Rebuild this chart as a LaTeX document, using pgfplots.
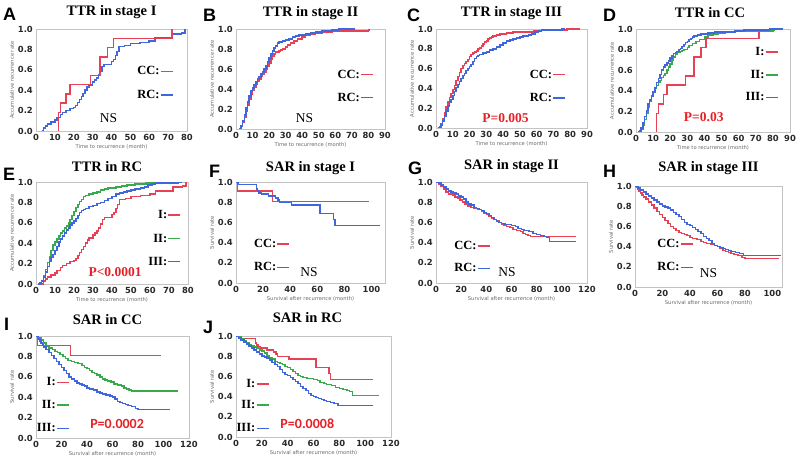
\documentclass[border=0pt]{standalone}
\usepackage{pgfplots}
\pgfplotsset{compat=1.18}
\usepackage{pgfplotstable}
\usepackage{fontspec}
\setmainfont{Liberation Serif}
\newfontfamily\tickfont{DejaVu Sans}
\newfontfamily\letterfont{Liberation Sans}
\newfontfamily\calib{Carlito}

\definecolor{kmred}{RGB}{232,64,84}
\definecolor{kmblue}{RGB}{64,102,222}
\definecolor{kmgreen}{RGB}{56,170,76}
\definecolor{pred}{RGB}{230,32,38}
\definecolor{boxgray}{RGB}{195,195,195}
\definecolor{labgray}{RGB}{105,105,105}
\definecolor{tickgray}{RGB}{40,40,40}

% ---------- time to recurrence ----------
\pgfplotstableread{
x y
12 0
12 0.182
13 0.273
16 0.364
18 0.455
29 0.545
34 0.727
38 0.818
41 0.909
72 1.0
}\ttrIcc
\pgfplotstableread{
x y
3 0
4 0.03
5 0.05
6 0.07
8 0.09
10 0.11
11 0.13
13 0.16
14 0.18
16 0.20
18 0.22
20 0.23
21 0.25
22 0.28
23 0.31
24 0.34
25 0.37
26 0.40
27 0.43
28 0.45
30 0.48
31 0.50
32 0.52
33 0.55
34 0.59
35 0.63
36 0.65
40 0.68
41 0.70
42 0.74
43 0.78
44 0.83
47 0.84
50 0.86
55 0.87
60 0.88
63 0.91
72 0.95
77 0.96
79 1.0
}\ttrIrc
\pgfplotstableread{
x y
2 0
3 0.03
4 0.07
5 0.12
6 0.18
7 0.24
8 0.30
9 0.35
10 0.39
11 0.42
12 0.45
13 0.48
14 0.50
15 0.53
16 0.55
17 0.57
18 0.60
19 0.63
20 0.66
21 0.70
22 0.73
23 0.75
24 0.77
26 0.78
27 0.79
28 0.80
30 0.82
31 0.84
33 0.86
35 0.88
37 0.90
40 0.92
42 0.94
45 0.95
48 0.96
52 0.97
58 0.98
75 0.98
80 0.99
81 0.99
}\ttrIIcc
\pgfplotstableread{
x y
2 0
3 0.03
4 0.08
5 0.14
6 0.21
7 0.27
8 0.33
9 0.38
10 0.41
11 0.44
12 0.47
13 0.50
14 0.52
15 0.55
16 0.57
17 0.60
18 0.63
19 0.67
20 0.71
21 0.75
22 0.78
23 0.81
24 0.83
25 0.86
26 0.87
28 0.88
30 0.89
32 0.90
34 0.92
36 0.93
38 0.94
42 0.95
45 0.96
48 0.97
52 0.98
58 0.99
62 1.0
72 1.0
}\ttrIIrc
\pgfplotstableread{
x y
1 0
2 0.01
3 0.04
4 0.09
5 0.15
6 0.21
7 0.27
8 0.31
9 0.35
10 0.39
11 0.43
12 0.48
13 0.52
14 0.56
15 0.60
16 0.63
17 0.65
18 0.67
19 0.69
20 0.72
21 0.74
22 0.76
23 0.77
24 0.78
25 0.80
26 0.81
27 0.83
28 0.85
29 0.87
30 0.88
31 0.90
32 0.91
33 0.92
34 0.93
36 0.94
38 0.95
42 0.96
46 0.97
55 0.97
58 0.98
63 0.99
70 0.99
78 1.0
86 1.0
}\ttrIIIcc
\pgfplotstableread{
x y
1 0
2 0.01
3 0.03
4 0.07
5 0.12
6 0.17
7 0.22
8 0.26
9 0.29
10 0.33
11 0.37
12 0.41
13 0.44
14 0.47
15 0.50
16 0.53
17 0.55
18 0.58
19 0.60
20 0.62
21 0.64
22 0.67
23 0.70
24 0.72
25 0.73
26 0.74
28 0.76
30 0.77
32 0.79
34 0.80
36 0.82
38 0.84
40 0.86
42 0.88
44 0.89
46 0.90
48 0.91
50 0.92
52 0.93
55 0.94
57 0.95
59 0.97
61 0.98
63 0.99
70 0.99
75 1.0
77 1.0
}\ttrIIIrc

% ---------- survival after recurrence ----------
\pgfplotstableread{
x y
0 1.0
1 0.909
27 0.808
98 0.808
}\sarIcc
\pgfplotstableread{
x y
0 1.0
2 0.977
15 0.93
16 0.91
17 0.89
19 0.88
24 0.86
29 0.84
31 0.82
32 0.795
41 0.77
62 0.69
72 0.63
73 0.57
106 0.57
}\sarIrc
\pgfplotstableread{
x y
0 1.0
2 0.98
4 0.96
6 0.93
8 0.90
10 0.88
13 0.87
15 0.85
17 0.84
19 0.82
21 0.80
23 0.78
25 0.76
28 0.75
30 0.74
33 0.73
36 0.71
38 0.69
40 0.68
42 0.66
44 0.64
46 0.63
48 0.62
50 0.60
52 0.58
54 0.57
56 0.56
59 0.55
61 0.53
64 0.52
67 0.51
69 0.49
71 0.48
73 0.47
75 0.46
111 0.46
}\sarIIcc
\pgfplotstableread{
x y
0 1.0
2 0.99
4 0.97
6 0.95
8 0.93
10 0.91
12 0.90
14 0.89
16 0.88
18 0.86
20 0.85
22 0.83
24 0.80
26 0.78
28 0.77
30 0.75
32 0.74
34 0.73
36 0.72
38 0.70
40 0.69
42 0.67
44 0.65
46 0.63
48 0.61
50 0.60
52 0.59
55 0.58
60 0.57
63 0.56
65 0.54
68 0.53
70 0.52
74 0.51
77 0.49
80 0.48
83 0.47
86 0.46
88 0.45
90 0.41
111 0.41
}\sarIIrc
\pgfplotstableread{
x y
0 1.0
1 0.99
2 0.97
3 0.95
4 0.93
5 0.91
6 0.89
8 0.87
10 0.84
12 0.81
14 0.78
16 0.75
18 0.72
20 0.69
22 0.66
24 0.63
26 0.60
28 0.58
30 0.56
32 0.54
34 0.53
36 0.52
38 0.51
40 0.49
42 0.48
45 0.47
48 0.45
50 0.44
52 0.43
55 0.42
58 0.41
60 0.40
62 0.38
64 0.36
66 0.35
68 0.34
70 0.33
72 0.32
75 0.31
78 0.29
80 0.28
105 0.28
}\sarIIIcc
\pgfplotstableread{
x y
0 1.0
2 0.98
4 0.96
6 0.94
8 0.92
10 0.90
12 0.88
14 0.86
16 0.84
18 0.82
20 0.80
22 0.79
24 0.78
26 0.76
28 0.74
30 0.72
32 0.70
34 0.67
36 0.64
38 0.62
40 0.61
42 0.59
44 0.57
46 0.55
48 0.53
50 0.50
52 0.48
54 0.46
56 0.43
58 0.41
60 0.40
62 0.39
64 0.38
66 0.37
68 0.36
70 0.35
73 0.34
76 0.33
79 0.31
106 0.31
}\sarIIIrc

\pgfplotsset{
  kml/.style={const plot, line width=1.5pt, mark=none},
  km/.style={
    scale only axis,
    xmin=0, ymin=0, ymax=1,
    ytick={0,0.2,0.4,0.6,0.8,1},
    yticklabel style={/pgf/number format/fixed,/pgf/number format/fixed zerofill,/pgf/number format/precision=1},
    /pgf/number format/assume math mode=true,
    axis line style={boxgray, line width=0.7pt},
    major tick length=0pt,
    tick label style={font=\tickfont\bfseries\fontsize{8.4}{9}\selectfont, text=tickgray},
    xticklabel style={inner sep=1pt, yshift=-2pt},
    yticklabel style={inner sep=1pt, xshift=-2pt},
    label style={font=\tickfont\fontsize{5.2}{6}\selectfont, text=labgray},
    xlabel style={at={([yshift=-16pt]axis description cs:0.5,0)}, anchor=center},
    ylabel style={at={([xshift=-24pt]axis description cs:0,0.5)}, anchor=center},
    title style={font=\bfseries\fontsize{14.5}{15}\selectfont, anchor=base, at={(axis description cs:0.5,1)}, yshift=7pt},
  },
  ttr/.style={km, xlabel={Time to recurrence (month)}, ylabel={Accumulative recurrence rate}},
  sar/.style={km, xlabel={Survival after recurrence (month)}, ylabel={Survival rate}},
}
\tikzset{
  nsl/.style={font=\fontsize{13.5}{14}\selectfont},
  pvl/.style={font=\bfseries\fontsize{13.5}{14}\selectfont, text=pred},
  pvs/.style={font=\calib\bfseries\fontsize{14}{15}\selectfont, text=pred},
  lett/.style={font=\letterfont\bfseries\fontsize{18}{18}\selectfont, anchor=base west, inner sep=0pt},
  lg/.style={font=\bfseries\fontsize{12.5}{13}\selectfont, inner sep=0pt},
}
% legend key: text left edge at x, centre at y
\newcommand\legL[4]{%
  \node[lg, anchor=west] (lgt) at (axis description cs:#1,#2) {#3};
  \draw[#4, line width=1.5pt] ([xshift=1pt,yshift=-0.5pt]lgt.east) -- ++(12pt,0);}
% legend key: line right end at x, centre at y
\newcommand\legR[4]{%
  \node[lg, anchor=east] (lgt) at ([xshift=-13pt]axis description cs:#1,#2) {#3};
  \draw[#4, line width=1.5pt] ([xshift=1pt,yshift=-0.5pt]lgt.east) -- ++(12pt,0);}

\begin{document}
\begin{tikzpicture}
\useasboundingbox (0,0) rectangle (800pt,-465pt);

% A
\begin{axis}[ttr, at={(36pt,-131pt)}, anchor=south west, width=151pt, height=102pt,
  xmax=80, xtick={0,10,...,80}, title={TTR in stage I}]
\addplot[kml, kmblue] table {\ttrIrc};
\addplot[kml, kmred] table {\ttrIcc};
\legL{0.67}{0.59}{CC:}{kmred}
\legL{0.67}{0.36}{RC:}{kmblue}
\node[nsl] at (axis description cs:0.48,0.13) {NS};
\end{axis}

% B
\begin{axis}[ttr, at={(236pt,-129pt)}, anchor=south west, width=149pt, height=100pt,
  xmax=90, xtick={0,10,...,90}, title={TTR in stage II}, title style={yshift=-1pt}]
\addplot[kml, kmred] table {\ttrIIcc};
\addplot[kml, kmblue] table {\ttrIIrc};
\legL{0.68}{0.55}{CC:}{kmred}
\legL{0.68}{0.32}{RC:}{kmblue}
\node[nsl] at (axis description cs:0.46,0.11) {NS};
\end{axis}

% C
\begin{axis}[ttr, at={(436pt,-128pt)}, anchor=south west, width=151pt, height=99pt,
  xmax=90, xtick={0,10,...,90}, title={TTR in stage III}, title style={yshift=-1pt}]
\addplot[kml, kmred] table {\ttrIIIcc};
\addplot[kml, kmblue] table {\ttrIIIrc};
\legL{0.62}{0.545}{CC:}{kmred}
\legL{0.62}{0.31}{RC:}{kmblue}
\node[pvl] at (axis description cs:0.46,0.10) {P=0.005};
\end{axis}

% D
\begin{axis}[ttr, at={(636pt,-132pt)}, anchor=south west, width=154pt, height=103pt,
  xmax=90, xtick={0,10,...,90}, title={TTR in CC}, title style={yshift=-2pt, xshift=-3pt}]
\addplot[kml, kmred] table {\ttrIcc};
\addplot[kml, kmgreen] table {\ttrIIcc};
\addplot[kml, kmblue] table {\ttrIIIcc};
\legR{0.92}{0.78}{I:}{kmred}
\legR{0.92}{0.56}{II:}{kmgreen}
\legR{0.92}{0.34}{III:}{kmblue}
\node[pvl] at (axis description cs:0.44,0.14) {P=0.03};
\end{axis}

% E
\begin{axis}[ttr, at={(36pt,-284pt)}, anchor=south west, width=152pt, height=102pt,
  xmax=80, xtick={0,10,...,80}, title={TTR in RC}, title style={yshift=-2pt, xshift=-5pt}]
\addplot[kml, kmred] table {\ttrIrc};
\addplot[kml, kmgreen] table {\ttrIIrc};
\addplot[kml, kmblue] table {\ttrIIIrc};
\legR{0.95}{0.68}{I:}{kmred}
\legR{0.95}{0.45}{II:}{kmgreen}
\legR{0.95}{0.225}{III:}{kmblue}
\node[pvl] at (axis description cs:0.52,0.12) {P<0.0001};
\end{axis}

% F
\begin{axis}[sar, at={(236pt,-283pt)}, anchor=south west, width=149pt, height=101pt,
  xmax=110, xtick={0,20,...,100}, title={SAR in stage I}, title style={yshift=-2pt}]
\addplot[kml, kmred] table {\sarIcc};
\addplot[kml, kmblue] table {\sarIrc};
\legL{0.12}{0.39}{CC:}{kmred}
\legL{0.12}{0.16}{RC:}{kmblue}
\node[nsl] at (axis description cs:0.49,0.11) {NS};
\end{axis}

% G
\begin{axis}[sar, at={(436pt,-283pt)}, anchor=south west, width=151pt, height=101pt,
  xmax=120, xtick={0,20,...,120}, title={SAR in stage II}]
\addplot[kml, kmred] table {\sarIIcc};
\addplot[kml, kmblue] table {\sarIIrc};
\legL{0.12}{0.37}{CC:}{kmred}
\legL{0.12}{0.15}{RC:}{kmblue}
\node[nsl] at (axis description cs:0.47,0.11) {NS};
\end{axis}

% H
\begin{axis}[sar, at={(635pt,-287pt)}, anchor=south west, width=147pt, height=101pt,
  xmax=107, xtick={0,20,...,100}, title={SAR in stage III}, title style={yshift=2pt}]
\addplot[kml, kmred] table {\sarIIIcc};
\addplot[kml, kmblue] table {\sarIIIrc};
\legL{0.15}{0.43}{CC:}{kmred}
\legL{0.15}{0.20}{RC:}{kmblue}
\node[nsl] at (axis description cs:0.50,0.14) {NS};
\end{axis}

% I
\begin{axis}[sar, at={(36pt,-438pt)}, anchor=south west, width=153pt, height=102pt,
  xmax=120, xtick={0,20,...,120}, title={SAR in CC}, title style={yshift=-1pt, xshift=-5pt}]
\addplot[kml, kmred] table {\sarIcc};
\addplot[kml, kmgreen] table {\sarIIcc};
\addplot[kml, kmblue] table {\sarIIIcc};
\legR{0.215}{0.55}{I:}{kmred}
\legR{0.215}{0.33}{II:}{kmgreen}
\legR{0.215}{0.10}{III:}{kmblue}
\node[pvs] at (axis description cs:0.53,0.14) {P=0.0002};
\end{axis}

% J
\begin{axis}[sar, at={(236pt,-437pt)}, anchor=south west, width=155pt, height=101pt,
  xmax=120, xtick={0,20,...,120}, title={SAR in RC}, title style={yshift=1pt, xshift=-6pt}]
\addplot[kml, kmred] table {\sarIrc};
\addplot[kml, kmgreen] table {\sarIIrc};
\addplot[kml, kmblue] table {\sarIIIrc};
\legR{0.21}{0.53}{I:}{kmred}
\legR{0.21}{0.32}{II:}{kmgreen}
\legR{0.21}{0.09}{III:}{kmblue}
\node[pvs] at (axis description cs:0.46,0.13) {P=0.0008};
\end{axis}

% panel letters
\node[lett] at (3pt,-21pt) {A};
\node[lett] at (203pt,-22pt) {B};
\node[lett] at (407pt,-22pt) {C};
\node[lett] at (603pt,-22pt) {D};
\node[lett] at (3pt,-181pt) {E};
\node[lett] at (209pt,-178pt) {F};
\node[lett] at (408pt,-175pt) {G};
\node[lett] at (603pt,-178pt) {H};
\node[lett] at (4pt,-330pt) {I};
\node[lett] at (203pt,-333pt) {J};
\end{tikzpicture}
\end{document}
